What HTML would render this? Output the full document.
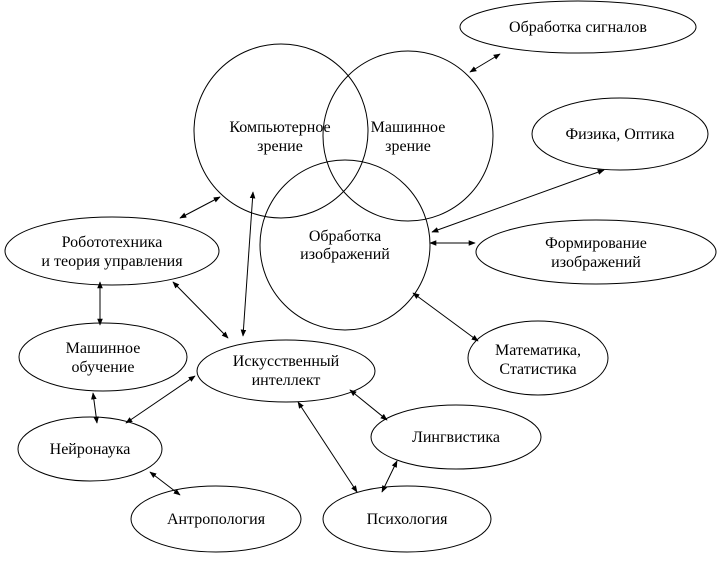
<!DOCTYPE html>
<html><head><meta charset="utf-8"><style>
html,body{margin:0;padding:0;background:#fff;}
svg text{font-family:"Liberation Serif",serif;font-size:16px;fill:#000;}
</style></head><body>
<svg width="721" height="562" viewBox="0 0 721 562" xmlns="http://www.w3.org/2000/svg">
<defs>
<marker id="a" viewBox="0 0 10 10" refX="9" refY="5" markerWidth="7" markerHeight="7" orient="auto-start-reverse">
<path d="M0,1 L10,5 L0,9 z" fill="#000"/></marker>
</defs>
<g fill="none" stroke="#000" stroke-width="1">
<circle cx="281" cy="131" r="87"/>
<circle cx="408" cy="136" r="85"/>
<circle cx="345" cy="245" r="85"/>
<ellipse cx="578" cy="27" rx="118" ry="26"/>
<ellipse cx="620" cy="134" rx="88" ry="36"/>
<ellipse cx="596" cy="252" rx="120" ry="32"/>
<ellipse cx="538" cy="358" rx="70" ry="37"/>
<ellipse cx="112" cy="251" rx="107" ry="34"/>
<ellipse cx="103" cy="357" rx="84" ry="34"/>
<ellipse cx="286" cy="371" rx="89" ry="31"/>
<ellipse cx="90" cy="449" rx="72" ry="32"/>
<ellipse cx="456" cy="437" rx="85" ry="32"/>
<ellipse cx="216" cy="519" rx="85" ry="33"/>
<ellipse cx="407" cy="519" rx="84" ry="33"/>
<g marker-start="url(#a)" marker-end="url(#a)">
<line x1="470" y1="72" x2="500" y2="54"/>
<line x1="432" y1="232" x2="604" y2="170"/>
<line x1="430" y1="243" x2="475" y2="243"/>
<line x1="413" y1="293" x2="478" y2="341"/>
<line x1="180" y1="218" x2="220" y2="197"/>
<line x1="100" y1="282" x2="100" y2="325"/>
<line x1="173" y1="282" x2="228" y2="338"/>
<line x1="253" y1="192" x2="243" y2="336"/>
<line x1="93" y1="393" x2="97" y2="423"/>
<line x1="126" y1="423" x2="195" y2="376"/>
<line x1="350" y1="390" x2="387" y2="420"/>
<line x1="298" y1="402" x2="357" y2="492"/>
<line x1="382" y1="492" x2="397" y2="461"/>
<line x1="150" y1="472" x2="180" y2="495"/>
</g>
</g>
<g text-anchor="middle">
<text x="578" y="32">Обработка сигналов</text>
<text x="620" y="139">Физика, Оптика</text>
<text x="596" y="248">Формирование</text>
<text x="596" y="267">изображений</text>
<text x="538" y="355">Математика,</text>
<text x="538" y="374">Статистика</text>
<text x="280" y="132">Компьютерное</text>
<text x="280" y="151">зрение</text>
<text x="408" y="132">Машинное</text>
<text x="408" y="151">зрение</text>
<text x="345" y="241">Обработка</text>
<text x="345" y="259">изображений</text>
<text x="112" y="247">Робототехника</text>
<text x="112" y="266">и теория управления</text>
<text x="103" y="353">Машинное</text>
<text x="103" y="372">обучение</text>
<text x="286" y="366">Искусственный</text>
<text x="286" y="385">интеллект</text>
<text x="90" y="454">Нейронаука</text>
<text x="456" y="442">Лингвистика</text>
<text x="216" y="524">Антропология</text>
<text x="407" y="524">Психология</text>
</g>
</svg>
</body></html>
